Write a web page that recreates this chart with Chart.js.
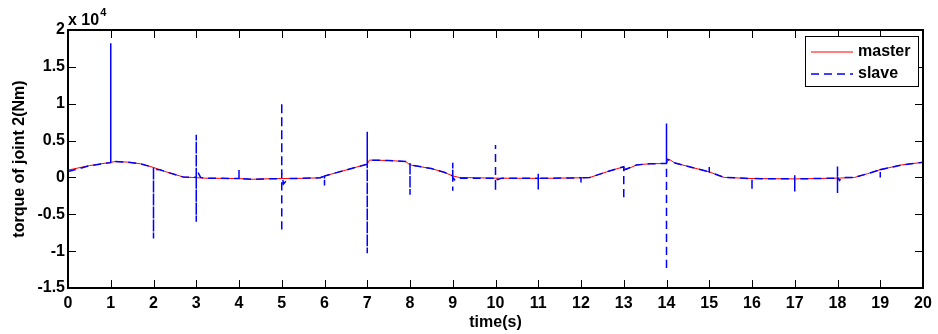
<!DOCTYPE html>
<html>
<head>
<meta charset="utf-8">
<script src="https://cdn.jsdelivr.net/npm/chart.js@4.4.0/dist/chart.umd.min.js"></script>
<style>
    html, body { margin: 0; padding: 0; background: #fff; }
</style>
</head>
<body>
<canvas id="chartTorque" width="938" height="334"></canvas>
<script>
// Dados (torque em Nm, tempo em s)
var tempoMaster = [0, 0.5, 1, 1.1, 1.4, 1.7, 2, 2.15, 2.3, 2.5,
    2.7, 2.9, 3.2, 4, 4.3, 4.6, 5, 5.5, 5.9, 6,
    6.5, 7, 7.05, 7.5, 7.9, 8, 8.5, 8.8, 9, 9.15,
    10, 11, 12, 12.2, 12.6, 13, 13.05, 13.3, 13.6, 14,
    14.05, 14.2, 14.6, 15, 15.35, 16, 17, 18, 18.4, 18.7,
    19, 19.5, 20];
var torqueMaster = [1000, 1600, 2050, 2150, 2080, 1850, 1350, 1050, 750, 400,
    50, 0, -100, -150, -250, -200, -150, -120, -50, 200,
    1000, 1800, 2350, 2300, 2150, 1700, 1200, 700, 200, 0,
    -100, -130, -50, -20, 750, 1450, 1050, 1700, 1850, 1900,
    2500, 1950, 1350, 750, 0, -150, -200, -100, 0, 500,
    1050, 1700, 2050];

var tempoSlave = [0, 0.5, 1, 1, 1, 1.1, 1.4, 1.7,
    2, 2, 2, 2.15, 2.3, 2.5, 2.7,
    3, 3, 3, 3, 3.04, 3.1, 3.2,
    4, 4, 4, 4.3, 4.6,
    5, 5, 5, 5, 5.04, 5.15, 5.5, 5.9,
    6, 6, 6, 6.5,
    7, 7, 7, 7, 7.5, 7.9,
    8, 8, 8, 8.5, 8.8,
    9, 9, 9, 9, 9.05, 9.15,
    10, 10, 10, 10, 10.05, 10.15,
    11, 11, 11, 11,
    12, 12, 12, 12.2, 12.6,
    13, 13, 13, 13.3, 13.6,
    14, 14, 14, 14, 14.2, 14.6,
    15, 15, 15, 15.35,
    16, 16, 16,
    17, 17, 17, 17,
    18, 18, 18, 18, 18.05, 18.1, 18.4, 18.7,
    19, 19, 19, 19.5,
    20, 20];
var torqueSlave = [800, 1580, 2000, 18200, 2150, 2150, 2080, 1850,
    1350, -8300, 1100, 1050, 750, 400, 50,
    0, 5800, -6000, 0, 700, 0, -100,
    -150, 1000, -150, -250, -200,
    -150, 10200, -7400, 700, -900, -150, -120, -50,
    200, -1100, 200, 1000,
    1800, 6200, -10300, 2350, 2300, 2150,
    2100, -2350, 1700, 1200, 700,
    200, 2000, -1800, 0, -350, -100,
    -100, 4400, -1900, -100, -300, -100,
    -130, 500, -1800, -130,
    -50, -700, -50, -20, 750,
    1450, -3000, 1000, 1700, 1850,
    1900, 7300, -12600, 2500, 1950, 1350,
    750, 1400, 750, 0,
    -150, -1800, -150,
    -200, 300, -1900, -200,
    -100, 1700, -2100, 0, -400, 0, 0, 500,
    1050, 0, 1050, 1700,
    2050, 0];

var limitesX = [0, 20];
var limitesY = [-15000, 20000];
var passoY = 5000;
var escalaY = 10000; // eixo mostrado em "x 10^4"

var fonte = 'Liberation Sans, Arial, Helvetica, sans-serif';

function montarPontos(tempos, valores) {
    var pontos = [];
    for (var i = 0; i < tempos.length; i++) {
        pontos.push({ x: tempos[i], y: valores[i] });
    }
    return pontos;
}

// Moldura estilo MATLAB: caixa, ticks para dentro, expoente e legenda
var moldura = {
    id: 'moldura',
    afterDraw: function (chart) {
        var ctx = chart.ctx;
        var area = chart.chartArea;
        var sx = chart.scales.x;
        var sy = chart.scales.y;
        var tam = 8;

        ctx.save();
        ctx.strokeStyle = '#000';
        ctx.lineWidth = 1;
        ctx.beginPath();
        sx.ticks.forEach(function (t) {
            var px = Math.round(sx.getPixelForValue(t.value)) + 0.5;
            ctx.moveTo(px, area.bottom);
            ctx.lineTo(px, area.bottom - tam);
            ctx.moveTo(px, area.top);
            ctx.lineTo(px, area.top + tam);
        });
        sy.ticks.forEach(function (t) {
            var py = Math.round(sy.getPixelForValue(t.value)) + 0.5;
            ctx.moveTo(area.left, py);
            ctx.lineTo(area.left + tam, py);
            ctx.moveTo(area.right, py);
            ctx.lineTo(area.right - tam, py);
        });
        ctx.stroke();

        ctx.lineWidth = 2;
        ctx.strokeRect(area.left, area.top, area.right - area.left, area.bottom - area.top);

        // expoente do eixo y
        ctx.fillStyle = '#000';
        ctx.textBaseline = 'alphabetic';
        ctx.textAlign = 'left';
        ctx.font = 'bold 16px ' + fonte;
        ctx.fillText('x 10', area.left, 25);
        var w = ctx.measureText('x 10').width;
        ctx.font = 'bold 11px ' + fonte;
        ctx.fillText('4', area.left + w + 1, 16);

        // legenda
        var lx = area.right - 118, ly = area.top + 6, lw = 113, lh = 50;
        ctx.fillStyle = '#fff';
        ctx.fillRect(lx, ly, lw, lh);
        ctx.lineWidth = 1;
        ctx.strokeStyle = '#000';
        ctx.strokeRect(lx + 0.5, ly + 0.5, lw, lh);
        var itens = [chart.data.datasets[0], chart.data.datasets[1]];
        itens.forEach(function (ds, i) {
            var yy = ly + 16 + i * 22;
            ctx.beginPath();
            ctx.strokeStyle = ds.borderColor;
            ctx.lineWidth = ds.borderWidth;
            ctx.setLineDash(ds.borderDash || []);
            ctx.moveTo(lx + 6, yy);
            ctx.lineTo(lx + 48, yy);
            ctx.stroke();
            ctx.setLineDash([]);
            ctx.fillStyle = '#000';
            ctx.font = 'bold 16px ' + fonte;
            ctx.textBaseline = 'middle';
            ctx.fillText(ds.label, lx + 53, yy);
        });
        ctx.restore();
    }
};

var dados = {
    datasets: [
        {
            label: 'master',
            data: montarPontos(tempoMaster, torqueMaster),
            borderColor: 'rgb(255, 0, 0)',
            borderWidth: 1,
            pointRadius: 0,
            tension: 0,
            order: 1
        },
        {
            label: 'slave',
            data: montarPontos(tempoSlave, torqueSlave),
            borderColor: 'rgb(0, 0, 255)',
            borderWidth: 1.5,
            borderDash: [8, 5],
            pointRadius: 0,
            tension: 0,
            order: 0
        }
    ]
};

var config = {
    type: 'line',
    data: dados,
    options: {
        responsive: false,
        animation: false,
        devicePixelRatio: 1,
        layout: { padding: { top: 30, right: 15, left: 0, bottom: 0 } },
        plugins: {
            legend: { display: false },
            tooltip: { enabled: false }
        },
        scales: {
            x: {
                type: 'linear',
                min: limitesX[0],
                max: limitesX[1],
                afterFit: function (scale) { scale.height = 46; },
                grid: { display: false, drawTicks: false },
                border: { display: false },
                ticks: {
                    stepSize: 1,
                    autoSkip: false,
                    maxRotation: 0,
                    padding: 6,
                    color: '#000',
                    font: { family: fonte, size: 16, weight: 'bold' }
                },
                title: {
                    display: true,
                    text: 'time(s)',
                    color: '#000',
                    padding: { top: 0, bottom: 2 },
                    font: { family: fonte, size: 16, weight: 'bold' }
                }
            },
            y: {
                min: limitesY[0],
                max: limitesY[1],
                afterFit: function (scale) { scale.width = 68; },
                grid: { display: false, drawTicks: false },
                border: { display: false },
                ticks: {
                    stepSize: passoY,
                    padding: 3,
                    color: '#000',
                    font: { family: fonte, size: 16, weight: 'bold' },
                    callback: function (v) { return String(v / escalaY); }
                },
                title: {
                    display: true,
                    text: 'torque of joint 2(Nm)',
                    color: '#000',
                    padding: { top: 10, bottom: 0 },
                    font: { family: fonte, size: 16, weight: 'bold' }
                }
            }
        }
    },
    plugins: [moldura]
};

var myChart = new Chart(document.getElementById('chartTorque'), config);
</script>
</body>
</html>
